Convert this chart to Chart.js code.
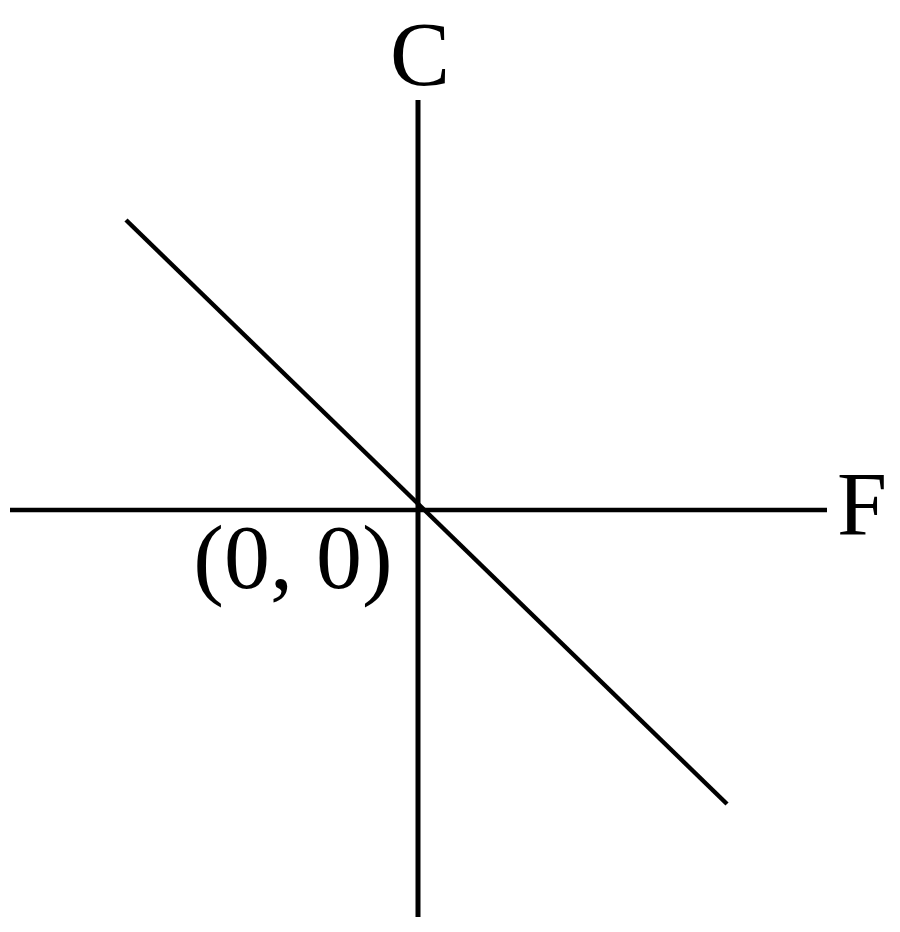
<!DOCTYPE html>
<html>
<head>
<meta charset="utf-8">
<script src="https://cdn.jsdelivr.net/npm/chart.js@4"></script>
<style>
  html, body { margin: 0; padding: 0; background: #fff; }
  #wrap { width: 900px; height: 932px; }
</style>
</head>
<body>
<div id="wrap"><canvas id="grafico" width="900" height="932"></canvas></div>
<script>
// eixos e reta (unidades = pixels a partir da origem, y para cima)
const eixoFX = [-408, 409];
const eixoFY = [0, 0];
const eixoCX = [0, 0];
const eixoCY = [-407, 410];
const retaX = [-292, 309];
const retaY = [290, -294];

// rótulos do desenho
const rotulos = ["C", "F", "(0, 0)"];
const rotuloX = [2, 444, -125];
const rotuloY = [425, -25, -78];
const rotuloTam = [90, 90, 92];

function pares(xs, ys) {
    return xs.map((x, i) => ({ x: x, y: ys[i] }));
}

const pluginRotulos = {
    id: 'rotulos',
    afterDatasetsDraw(chart) {
        const ctx = chart.ctx;
        const sx = chart.scales.x, sy = chart.scales.y;
        ctx.save();
        ctx.fillStyle = '#000';
        ctx.textAlign = 'center';
        ctx.textBaseline = 'alphabetic';
        rotulos.forEach((txt, i) => {
            ctx.font = rotuloTam[i] + 'px "Liberation Serif", "Times New Roman", serif';
            ctx.fillText(txt, sx.getPixelForValue(rotuloX[i]), sy.getPixelForValue(rotuloY[i]));
        });
        ctx.restore();
    }
};

function linha(dados, largura) {
    return {
        data: dados,
        showLine: true,
        borderColor: '#000',
        borderWidth: largura,
        pointRadius: 0,
        borderCapStyle: 'butt',
        fill: false
    };
}

window.onload = function() {
    const ctx = document.getElementById('grafico').getContext('2d');
    new Chart(ctx, {
        type: 'scatter',
        data: {
            datasets: [
                linha(pares(eixoFX, eixoFY), 4.5),
                linha(pares(eixoCX, eixoCY), 5),
                linha(pares(retaX, retaY), 4.5)
            ]
        },
        options: {
            responsive: false,
            animation: false,
            layout: { padding: 0 },
            plugins: { legend: { display: false }, tooltip: { enabled: false } },
            scales: {
                x: { type: 'linear', min: -418, max: 482, display: false },
                y: { type: 'linear', min: -422, max: 510, display: false }
            }
        },
        plugins: [pluginRotulos]
    });
};
</script>
</body>
</html>
